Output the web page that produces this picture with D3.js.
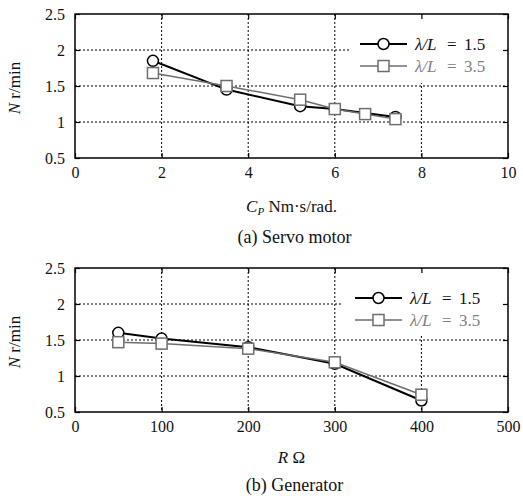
<!DOCTYPE html>
<html>
<head>
<meta charset="utf-8">
<script src="https://cdn.jsdelivr.net/npm/d3@7"></script>
<style>
  body { margin: 0; background: #fff; }
  svg { display: block; font-family: "Liberation Serif", "Times New Roman", serif; }
</style>
</head>
<body>
<div id="chart"></div>
<script>
// panel (a) servo motor
const servoCp1 = [1.8, 3.5, 5.2, 6.0, 7.4];
const servoN1 = [1.85, 1.45, 1.22, 1.18, 1.07];
const servoCp2 = [1.8, 3.5, 5.2, 6.0, 6.7, 7.4];
const servoN2 = [1.68, 1.5, 1.31, 1.18, 1.11, 1.04];
const servoXTicks = [0, 2, 4, 6, 8, 10];

// panel (b) generator
const genR = [50, 100, 200, 300, 400];
const genN1 = [1.6, 1.52, 1.4, 1.17, 0.66];
const genN2 = [1.47, 1.45, 1.38, 1.19, 0.74];
const genXTicks = [0, 100, 200, 300, 400, 500];

const yTicks = [0.5, 1, 1.5, 2, 2.5];
const seriesNames = ["1.5", "3.5"];

const width = 523, height = 498;
const svg = d3.select("#chart").append("svg")
  .attr("width", width)
  .attr("height", height);

function drawPanel(top, xTicks, s1x, s1y, s2x, s2y, xTitle, caption, legendX, legendBox, textOff) {
  const left = 75, right = 508, plotH = 144;
  const g = svg.append("g").attr("transform", `translate(0,${top})`);

  const x = d3.scaleLinear().domain([xTicks[0], xTicks[xTicks.length - 1]]).range([left, right]);
  const y = d3.scaleLinear().domain([0.5, 2.5]).range([plotH, 0]);

  // dashed grid
  g.selectAll(".vg").data(xTicks.slice(1, -1)).join("line")
    .attr("x1", d => x(d)).attr("x2", d => x(d))
    .attr("y1", 0).attr("y2", plotH)
    .attr("stroke", "#000").attr("stroke-width", 1).attr("stroke-dasharray", "2,2");
  g.selectAll(".hg").data(yTicks.slice(1, -1)).join("line")
    .attr("x1", left).attr("x2", right)
    .attr("y1", d => y(d)).attr("y2", d => y(d))
    .attr("stroke", "#000").attr("stroke-width", 1).attr("stroke-dasharray", "2,2");

  // legend background hides grid
  g.append("rect")
    .attr("x", legendBox[0]).attr("y", 1)
    .attr("width", right - 1 - legendBox[0]).attr("height", legendBox[1])
    .attr("fill", "#fff");

  // axes with inner ticks on all four sides
  const fmt = d3.format("");
  g.append("g").attr("transform", `translate(0,${plotH})`)
    .call(d3.axisBottom(x).tickValues(xTicks).tickSizeInner(-5).tickSizeOuter(0).tickPadding(9).tickFormat(fmt));
  g.append("g").attr("transform", `translate(0,0)`)
    .call(d3.axisTop(x).tickValues(xTicks).tickSizeInner(-5).tickSizeOuter(0).tickFormat(""));
  g.append("g").attr("transform", `translate(${left},0)`)
    .call(d3.axisLeft(y).tickValues(yTicks).tickSizeInner(-5).tickSizeOuter(0).tickPadding(10).tickFormat(fmt));
  g.append("g").attr("transform", `translate(${right},0)`)
    .call(d3.axisRight(y).tickValues(yTicks).tickSizeInner(-5).tickSizeOuter(0).tickFormat(""));
  g.selectAll(".domain").remove();
  g.selectAll(".tick line").attr("stroke", "#000").attr("stroke-width", 1.2);
  g.selectAll(".tick text").attr("font-family", "Liberation Serif").attr("font-size", 16).attr("fill", "#111");

  g.append("rect")
    .attr("x", left).attr("y", 0).attr("width", right - left).attr("height", plotH)
    .attr("fill", "none").attr("stroke", "#000").attr("stroke-width", 1.5);

  // series lines
  const pts1 = s1x.map((v, i) => [v, s1y[i]]);
  const pts2 = s2x.map((v, i) => [v, s2y[i]]);
  const line = d3.line().x(d => x(d[0])).y(d => y(d[1]));

  g.append("path").attr("d", line(pts1)).attr("fill", "none").attr("stroke", "#000").attr("stroke-width", 2);
  g.selectAll(".c").data(pts1).join("circle")
    .attr("cx", d => x(d[0])).attr("cy", d => y(d[1])).attr("r", 5.5)
    .attr("fill", "#fff").attr("stroke", "#000").attr("stroke-width", 1.5);
  g.append("path").attr("d", line(pts2)).attr("fill", "none").attr("stroke", "#6e6e6e").attr("stroke-width", 1.5);
  g.selectAll(".s").data(pts2).join("rect")
    .attr("x", d => x(d[0]) - 5.5).attr("y", d => y(d[1]) - 5.5)
    .attr("width", 11).attr("height", 11)
    .attr("fill", "#fff").attr("stroke", "#6e6e6e").attr("stroke-width", 1.5);

  // legend
  const lg = g.append("g").attr("transform", `translate(${legendX},0)`);
  const rows = [30, 52];
  lg.append("line").attr("x1", 0).attr("x2", 47).attr("y1", rows[0]).attr("y2", rows[0])
    .attr("stroke", "#000").attr("stroke-width", 2);
  lg.append("circle").attr("cx", 23.5).attr("cy", rows[0]).attr("r", 5.5)
    .attr("fill", "#fff").attr("stroke", "#000").attr("stroke-width", 1.5);
  lg.append("line").attr("x1", 0).attr("x2", 47).attr("y1", rows[1]).attr("y2", rows[1])
    .attr("stroke", "#6e6e6e").attr("stroke-width", 1.5);
  lg.append("rect").attr("x", 18).attr("y", rows[1] - 5.5).attr("width", 11).attr("height", 11)
    .attr("fill", "#fff").attr("stroke", "#6e6e6e").attr("stroke-width", 1.5);
  seriesNames.forEach((s, i) => {
    const t = lg.append("text").attr("y", rows[i]).attr("dy", "0.35em")
      .attr("font-size", 17).attr("fill", i === 0 ? "#111" : "#808080");
    t.append("tspan").attr("x", 55).attr("font-style", "italic").text("\u03bb/L");
    t.append("tspan").attr("x", 87).text("=");
    t.append("tspan").attr("x", 104).text(s);
  });

  // axis titles
  const yt = g.append("text")
    .attr("transform", `translate(20,${plotH / 2 + 2}) rotate(-90)`)
    .attr("text-anchor", "middle").attr("font-size", 17).attr("fill", "#111");
  yt.append("tspan").attr("font-style", "italic").text("N");
  yt.append("tspan").text(" r/min");

  const xt = g.append("text")
    .attr("x", (left + right) / 2).attr("y", plotH + textOff[0])
    .attr("text-anchor", "middle").attr("font-size", 17).attr("fill", "#111");
  xTitle(xt);

  g.append("text")
    .attr("x", (left + right) / 2 + 3).attr("y", plotH + textOff[1])
    .attr("text-anchor", "middle").attr("font-size", 18).attr("fill", "#111")
    .text(caption);
}

drawPanel(14, servoXTicks, servoCp1, servoN1, servoCp2, servoN2, t => {
  t.append("tspan").attr("font-style", "italic").text("C");
  t.append("tspan").attr("font-style", "italic").attr("font-size", 11).attr("dy", 3).text("P");
  t.append("tspan").attr("dy", -3).text(" Nm\u00b7s/rad.");
}, "(a) Servo motor", 360, [350, 68], [54, 85]);

drawPanel(268, genXTicks, genR, genN1, genR, genN2, t => {
  t.append("tspan").attr("font-style", "italic").text("R");
  t.append("tspan").text(" \u03a9");
}, "(b) Generator", 355, [343, 66], [51, 79]);
</script>
</body>
</html>
